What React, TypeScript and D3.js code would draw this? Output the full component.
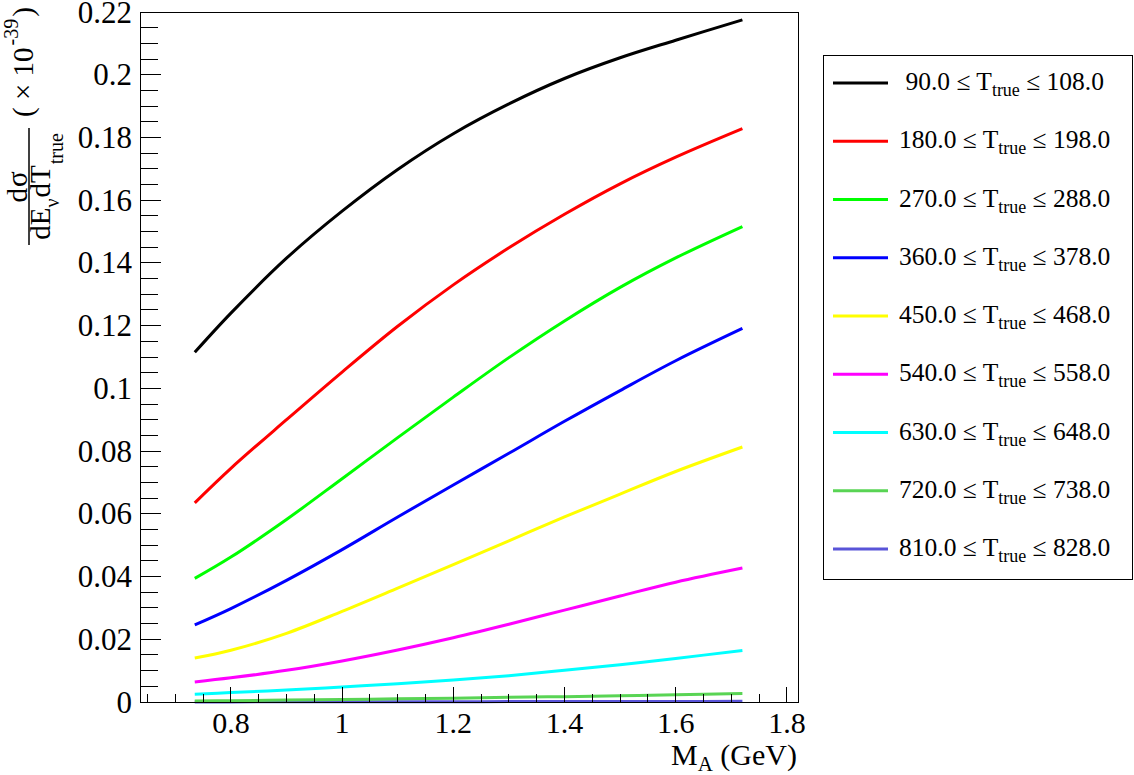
import React from 'react';
import * as d3 from 'd3';

// ---------- data ----------
const MA = [0.735, 0.8, 0.9, 1.0, 1.1, 1.2, 1.3, 1.4, 1.5, 1.6, 1.72];
const s090 = [0.1115, 0.1240, 0.1415, 0.1565, 0.1698, 0.1812, 0.1907, 0.1988, 0.2054, 0.2110, 0.2175];
const s180 = [0.0635, 0.0745, 0.0900, 0.1052, 0.1198, 0.1330, 0.1448, 0.1555, 0.1652, 0.1737, 0.1828];
const s270 = [0.0394, 0.0462, 0.0582, 0.0712, 0.0843, 0.0972, 0.1098, 0.1215, 0.1322, 0.1416, 0.1516];
const s360 = [0.0246, 0.0298, 0.0388, 0.0486, 0.0590, 0.0692, 0.0793, 0.0895, 0.0993, 0.1088, 0.1191];
const s450 = [0.0140, 0.0165, 0.0219, 0.0289, 0.0363, 0.0438, 0.0514, 0.0590, 0.0663, 0.0735, 0.0813];
const s540 = [0.0064, 0.0077, 0.0101, 0.0131, 0.0166, 0.0205, 0.0248, 0.0293, 0.0338, 0.0382, 0.0427];
const s630 = [0.0025, 0.0030, 0.0038, 0.0048, 0.0058, 0.0070, 0.0084, 0.0101, 0.0119, 0.0139, 0.0164];
const s720 = [0.0003, 0.0004, 0.0006, 0.0008, 0.0010, 0.0012, 0.0015, 0.0017, 0.0020, 0.0023, 0.0027];
const s810 = [0.00003, 0.00004, 0.00005, 0.00006, 0.00008, 0.0001, 0.00012, 0.00014, 0.00016, 0.00018, 0.0002];

const seriesValues = [s090, s180, s270, s360, s450, s540, s630, s720, s810];
const seriesLow = [' 90.0', '180.0', '270.0', '360.0', '450.0', '540.0', '630.0', '720.0', '810.0'];
const seriesHigh = ['108.0', '198.0', '288.0', '378.0', '468.0', '558.0', '648.0', '738.0', '828.0'];
const seriesColors = ['#000000', '#ff0000', '#00ff00', '#0000ff', '#ffff00', '#ff00ff', '#00ffff', '#59d454', '#5954d8'];

const xMajorTicks = [0.8, 1.0, 1.2, 1.4, 1.6, 1.8];
const xTickLabels = ['0.8', '1', '1.2', '1.4', '1.6', '1.8'];
const yMajorTicks = [0, 0.02, 0.04, 0.06, 0.08, 0.1, 0.12, 0.14, 0.16, 0.18, 0.2, 0.22];
const yTickLabels = ['0', '0.02', '0.04', '0.06', '0.08', '0.1', '0.12', '0.14', '0.16', '0.18', '0.2', '0.22'];

// ---------- layout ----------
const W = 1134;
const H = 775;
const frame = { left: 140, right: 798, top: 12, bottom: 702 };
const FONT = '"Liberation Serif", "Times New Roman", Times, serif';

export default function App() {
  const x = d3.scaleLinear().domain([0.6365, 1.82]).range([frame.left, frame.right]);
  const y = d3.scaleLinear().domain([0, 0.22]).range([frame.bottom, frame.top]);

  const xMinor = d3.range(0.65, 1.8001, 0.05).filter((v) => v >= 0.6365 && v <= 1.82);
  const yMinor = d3.range(0, 0.22001, 0.005);

  const line = d3
    .line<number>()
    .x((_, i) => x(MA[i]))
    .y((d) => y(d))
    .curve(d3.curveCatmullRom.alpha(0.5));

  const legend = { left: 823, top: 55, right: 1132, bottom: 579, firstRow: 83, rowStep: 58.25 };

  return (
    <svg
      width={W}
      height={H}
      style={{ position: 'fixed', left: 0, top: 0, background: '#fff', fontFamily: FONT }}
    >
      <rect x={0} y={0} width={W} height={H} fill="#fff" />

      {/* curves */}
      {seriesValues
        .map((vals, i) => (
          <path key={i} d={line(vals) || ''} fill="none" stroke={seriesColors[i]} strokeWidth={3} />
        ))
        .reverse()}

      {/* frame */}
      <rect
        x={frame.left}
        y={frame.top}
        width={frame.right - frame.left}
        height={frame.bottom - frame.top}
        fill="none"
        stroke="#000"
        strokeWidth={1}
        shapeRendering="crispEdges"
      />

      {/* x ticks */}
      {xMinor.map((v, i) => (
        <line key={'xm' + i} x1={x(v)} x2={x(v)} y1={frame.bottom} y2={frame.bottom - 8} stroke="#000" shapeRendering="crispEdges" />
      ))}
      {xMajorTicks.map((v, i) => (
        <line key={'xM' + i} x1={x(v)} x2={x(v)} y1={frame.bottom} y2={frame.bottom - 15} stroke="#000" shapeRendering="crispEdges" />
      ))}
      {xMajorTicks.map((v, i) => (
        <text key={'xl' + i} x={x(v)} y={733} textAnchor="middle" fontSize={30}>
          {xTickLabels[i]}
        </text>
      ))}

      {/* y ticks */}
      {yMinor.map((v, i) => (
        <line key={'ym' + i} x1={frame.left} x2={frame.left + 18} y1={y(v)} y2={y(v)} stroke="#000" shapeRendering="crispEdges" />
      ))}
      {yMajorTicks.map((v, i) => (
        <line key={'yM' + i} x1={frame.left} x2={frame.left + 21} y1={y(v)} y2={y(v)} stroke="#000" shapeRendering="crispEdges" />
      ))}
      {yMajorTicks.map((v, i) => (
        <text key={'yl' + i} x={132} y={y(v) + 10.5} textAnchor="end" fontSize={31}>
          {yTickLabels[i]}
        </text>
      ))}

      {/* x title */}
      <text x={797} y={765} textAnchor="end" fontSize={30}>
        M<tspan fontSize={21} dy={6}>A</tspan>
        <tspan dy={-6}> (GeV)</tspan>
      </text>

      {/* y title */}
      <g transform="translate(0,245) rotate(-90)">
        <line x1={0} x2={117} y1={29} y2={29} stroke="#000" strokeWidth={1.5} />
        <text x={58.5} y={27} textAnchor="middle" fontSize={29} letterSpacing={1}>
          dσ
        </text>
        <text x={58.5} y={50} textAnchor="middle" fontSize={29}>
          dE<tspan fontSize={20} dy={9}>ν</tspan>
          <tspan dy={-9} dx={1}>dT</tspan>
          <tspan fontSize={20} dy={13} dx={1}>true</tspan>
        </text>
        <text x={128} y={33} fontSize={29} style={{ whiteSpace: 'pre' }}>
          {'( × 10'}
          <tspan fontSize={20} dy={-15} dx={2}>-39</tspan>
          <tspan dy={15} dx={2}>)</tspan>
        </text>
      </g>

      {/* legend */}
      <rect
        x={legend.left}
        y={legend.top}
        width={legend.right - legend.left}
        height={legend.bottom - legend.top}
        fill="#fff"
        stroke="#000"
        strokeWidth={1}
        shapeRendering="crispEdges"
      />
      {seriesValues.map((_, i) => {
        const cy = legend.firstRow + i * legend.rowStep;
        return (
          <g key={'lg' + i}>
            <line x1={833} x2={888} y1={cy} y2={cy} stroke={seriesColors[i]} strokeWidth={3} />
            <text x={899} y={cy + 7} fontSize={25.5} style={{ whiteSpace: 'pre' }}>
              {seriesLow[i] + ' ≤ T'}
              <tspan fontSize={18} dy={6}>true</tspan>
              <tspan dy={-6}>{' ≤ ' + seriesHigh[i]}</tspan>
            </text>
          </g>
        );
      })}
    </svg>
  );
}
